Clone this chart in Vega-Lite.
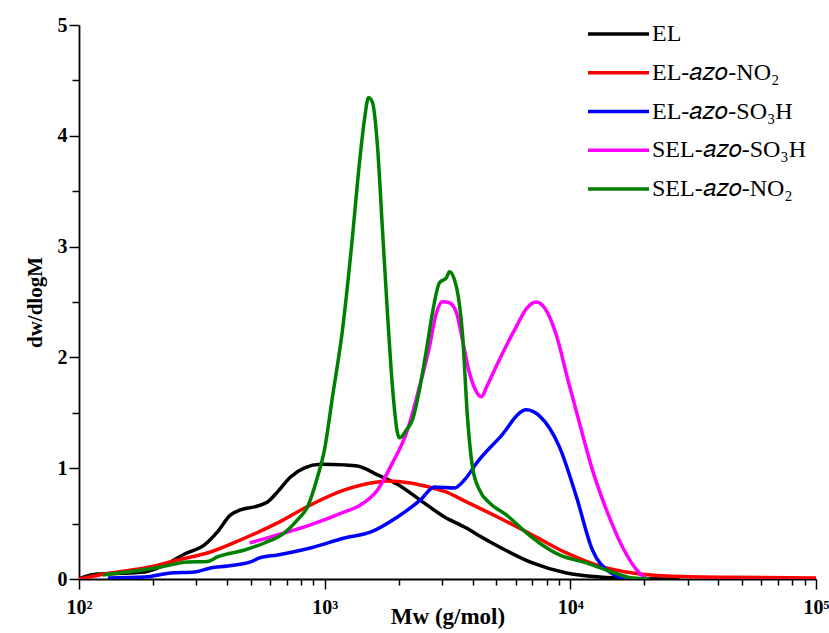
{
  "$schema": "https://vega.github.io/schema/vega-lite/v6.json",
  "width": 737,
  "height": 554,
  "autosize": {"type": "none"},
  "padding": {"left": 79, "top": 25, "right": 13, "bottom": 54},
  "config": {"view": {"stroke": null}, "font": "Liberation Serif"},
  "data": {
    "values": [
      {"s": "EL", "M": 100, "v": 0},
      {"s": "EL", "M": 105, "v": 0.02},
      {"s": "EL", "M": 119, "v": 0.045},
      {"s": "EL", "M": 143, "v": 0.05},
      {"s": "EL", "M": 185, "v": 0.063},
      {"s": "EL", "M": 223, "v": 0.126},
      {"s": "EL", "M": 269, "v": 0.226},
      {"s": "EL", "M": 324, "v": 0.307},
      {"s": "EL", "M": 366, "v": 0.425},
      {"s": "EL", "M": 414, "v": 0.578},
      {"s": "EL", "M": 454, "v": 0.623},
      {"s": "EL", "M": 533, "v": 0.659},
      {"s": "EL", "M": 585, "v": 0.695},
      {"s": "EL", "M": 643, "v": 0.786},
      {"s": "EL", "M": 726, "v": 0.921},
      {"s": "EL", "M": 828, "v": 1.003},
      {"s": "EL", "M": 962, "v": 1.035},
      {"s": "EL", "M": 1204, "v": 1.03},
      {"s": "EL", "M": 1360, "v": 1.02},
      {"s": "EL", "M": 1641, "v": 0.94},
      {"s": "EL", "M": 1978, "v": 0.855},
      {"s": "EL", "M": 2455, "v": 0.71},
      {"s": "EL", "M": 3074, "v": 0.56},
      {"s": "EL", "M": 3777, "v": 0.46},
      {"s": "EL", "M": 4188, "v": 0.4},
      {"s": "EL", "M": 5146, "v": 0.289},
      {"s": "EL", "M": 7015, "v": 0.145},
      {"s": "EL", "M": 9643, "v": 0.054},
      {"s": "EL", "M": 13140, "v": 0.018},
      {"s": "EL", "M": 17900, "v": 0.005},
      {"s": "EL", "M": 27800, "v": 0},

      {"s": "EL-𝑎𝑧𝑜-NO₂", "M": 100, "v": 0},
      {"s": "EL-𝑎𝑧𝑜-NO₂", "M": 134, "v": 0.054},
      {"s": "EL-𝑎𝑧𝑜-NO₂", "M": 185, "v": 0.099},
      {"s": "EL-𝑎𝑧𝑜-NO₂", "M": 252, "v": 0.172},
      {"s": "EL-𝑎𝑧𝑜-NO₂", "M": 343, "v": 0.244},
      {"s": "EL-𝑎𝑧𝑜-NO₂", "M": 454, "v": 0.352},
      {"s": "EL-𝑎𝑧𝑜-NO₂", "M": 643, "v": 0.506},
      {"s": "EL-𝑎𝑧𝑜-NO₂", "M": 875, "v": 0.668},
      {"s": "EL-𝑎𝑧𝑜-NO₂", "M": 1204, "v": 0.804},
      {"s": "EL-𝑎𝑧𝑜-NO₂", "M": 1641, "v": 0.876},
      {"s": "EL-𝑎𝑧𝑜-NO₂", "M": 1801, "v": 0.885},
      {"s": "EL-𝑎𝑧𝑜-NO₂", "M": 2234, "v": 0.867},
      {"s": "EL-𝑎𝑧𝑜-NO₂", "M": 2747, "v": 0.822},
      {"s": "EL-𝑎𝑧𝑜-NO₂", "M": 3074, "v": 0.79},
      {"s": "EL-𝑎𝑧𝑜-NO₂", "M": 3777, "v": 0.696},
      {"s": "EL-𝑎𝑧𝑜-NO₂", "M": 5146, "v": 0.551},
      {"s": "EL-𝑎𝑧𝑜-NO₂", "M": 7015, "v": 0.397},
      {"s": "EL-𝑎𝑧𝑜-NO₂", "M": 9643, "v": 0.235},
      {"s": "EL-𝑎𝑧𝑜-NO₂", "M": 13140, "v": 0.117},
      {"s": "EL-𝑎𝑧𝑜-NO₂", "M": 17900, "v": 0.054},
      {"s": "EL-𝑎𝑧𝑜-NO₂", "M": 24600, "v": 0.027},
      {"s": "EL-𝑎𝑧𝑜-NO₂", "M": 45700, "v": 0.015},
      {"s": "EL-𝑎𝑧𝑜-NO₂", "M": 100000, "v": 0.009},

      {"s": "EL-𝑎𝑧𝑜-SO₃H", "M": 131, "v": 0.009},
      {"s": "EL-𝑎𝑧𝑜-SO₃H", "M": 185, "v": 0.018},
      {"s": "EL-𝑎𝑧𝑜-SO₃H", "M": 236, "v": 0.054},
      {"s": "EL-𝑎𝑧𝑜-SO₃H", "M": 295, "v": 0.063},
      {"s": "EL-𝑎𝑧𝑜-SO₃H", "M": 343, "v": 0.099},
      {"s": "EL-𝑎𝑧𝑜-SO₃H", "M": 402, "v": 0.117},
      {"s": "EL-𝑎𝑧𝑜-SO₃H", "M": 499, "v": 0.154},
      {"s": "EL-𝑎𝑧𝑜-SO₃H", "M": 543, "v": 0.19},
      {"s": "EL-𝑎𝑧𝑜-SO₃H", "M": 643, "v": 0.217},
      {"s": "EL-𝑎𝑧𝑜-SO₃H", "M": 875, "v": 0.28},
      {"s": "EL-𝑎𝑧𝑜-SO₃H", "M": 1204, "v": 0.37},
      {"s": "EL-𝑎𝑧𝑜-SO₃H", "M": 1544, "v": 0.425},
      {"s": "EL-𝑎𝑧𝑜-SO₃H", "M": 1978, "v": 0.56},
      {"s": "EL-𝑎𝑧𝑜-SO₃H", "M": 2455, "v": 0.714},
      {"s": "EL-𝑎𝑧𝑜-SO₃H", "M": 2798, "v": 0.831},
      {"s": "EL-𝑎𝑧𝑜-SO₃H", "M": 3376, "v": 0.822},
      {"s": "EL-𝑎𝑧𝑜-SO₃H", "M": 3707, "v": 0.894},
      {"s": "EL-𝑎𝑧𝑜-SO₃H", "M": 4188, "v": 1.057},
      {"s": "EL-𝑎𝑧𝑜-SO₃H", "M": 5146, "v": 1.274},
      {"s": "EL-𝑎𝑧𝑜-SO₃H", "M": 6628, "v": 1.527},
      {"s": "EL-𝑎𝑧𝑜-SO₃H", "M": 7487, "v": 1.472},
      {"s": "EL-𝑎𝑧𝑜-SO₃H", "M": 9027, "v": 1.192},
      {"s": "EL-𝑎𝑧𝑜-SO₃H", "M": 10590, "v": 0.741},
      {"s": "EL-𝑎𝑧𝑜-SO₃H", "M": 12300, "v": 0.262},
      {"s": "EL-𝑎𝑧𝑜-SO₃H", "M": 14430, "v": 0.063},
      {"s": "EL-𝑎𝑧𝑜-SO₃H", "M": 16920, "v": 0},

      {"s": "SEL-𝑎𝑧𝑜-SO₃H", "M": 495, "v": 0.325},
      {"s": "SEL-𝑎𝑧𝑜-SO₃H", "M": 643, "v": 0.397},
      {"s": "SEL-𝑎𝑧𝑜-SO₃H", "M": 875, "v": 0.488},
      {"s": "SEL-𝑎𝑧𝑜-SO₃H", "M": 1204, "v": 0.605},
      {"s": "SEL-𝑎𝑧𝑜-SO₃H", "M": 1399, "v": 0.668},
      {"s": "SEL-𝑎𝑧𝑜-SO₃H", "M": 1641, "v": 0.804},
      {"s": "SEL-𝑎𝑧𝑜-SO₃H", "M": 1888, "v": 1.048},
      {"s": "SEL-𝑎𝑧𝑜-SO₃H", "M": 2153, "v": 1.319},
      {"s": "SEL-𝑎𝑧𝑜-SO₃H", "M": 2431, "v": 1.734},
      {"s": "SEL-𝑎𝑧𝑜-SO₃H", "M": 2670, "v": 2.096},
      {"s": "SEL-𝑎𝑧𝑜-SO₃H", "M": 2851, "v": 2.403},
      {"s": "SEL-𝑎𝑧𝑜-SO₃H", "M": 3015, "v": 2.502},
      {"s": "SEL-𝑎𝑧𝑜-SO₃H", "M": 3220, "v": 2.493},
      {"s": "SEL-𝑎𝑧𝑜-SO₃H", "M": 3439, "v": 2.403},
      {"s": "SEL-𝑎𝑧𝑜-SO₃H", "M": 3637, "v": 2.159},
      {"s": "SEL-𝑎𝑧𝑜-SO₃H", "M": 3884, "v": 1.861},
      {"s": "SEL-𝑎𝑧𝑜-SO₃H", "M": 4148, "v": 1.689},
      {"s": "SEL-𝑎𝑧𝑜-SO₃H", "M": 4346, "v": 1.644},
      {"s": "SEL-𝑎𝑧𝑜-SO₃H", "M": 4555, "v": 1.73},
      {"s": "SEL-𝑎𝑧𝑜-SO₃H", "M": 4850, "v": 1.86},
      {"s": "SEL-𝑎𝑧𝑜-SO₃H", "M": 5146, "v": 1.98},
      {"s": "SEL-𝑎𝑧𝑜-SO₃H", "M": 5560, "v": 2.13},
      {"s": "SEL-𝑎𝑧𝑜-SO₃H", "M": 6036, "v": 2.28},
      {"s": "SEL-𝑎𝑧𝑜-SO₃H", "M": 6628, "v": 2.44},
      {"s": "SEL-𝑎𝑧𝑜-SO₃H", "M": 7260, "v": 2.5},
      {"s": "SEL-𝑎𝑧𝑜-SO₃H", "M": 7900, "v": 2.44},
      {"s": "SEL-𝑎𝑧𝑜-SO₃H", "M": 8778, "v": 2.2},
      {"s": "SEL-𝑎𝑧𝑜-SO₃H", "M": 9765, "v": 1.8},
      {"s": "SEL-𝑎𝑧𝑜-SO₃H", "M": 10890, "v": 1.409},
      {"s": "SEL-𝑎𝑧𝑜-SO₃H", "M": 12300, "v": 0.985},
      {"s": "SEL-𝑎𝑧𝑜-SO₃H", "M": 14030, "v": 0.623},
      {"s": "SEL-𝑎𝑧𝑜-SO₃H", "M": 16300, "v": 0.289},
      {"s": "SEL-𝑎𝑧𝑜-SO₃H", "M": 19110, "v": 0.054},
      {"s": "SEL-𝑎𝑧𝑜-SO₃H", "M": 20500, "v": 0},

      {"s": "SEL-𝑎𝑧𝑜-NO₂", "M": 125, "v": 0.036},
      {"s": "SEL-𝑎𝑧𝑜-NO₂", "M": 157, "v": 0.063},
      {"s": "SEL-𝑎𝑧𝑜-NO₂", "M": 215, "v": 0.108},
      {"s": "SEL-𝑎𝑧𝑜-NO₂", "M": 277, "v": 0.154},
      {"s": "SEL-𝑎𝑧𝑜-NO₂", "M": 333, "v": 0.158},
      {"s": "SEL-𝑎𝑧𝑜-NO₂", "M": 366, "v": 0.199},
      {"s": "SEL-𝑎𝑧𝑜-NO₂", "M": 472, "v": 0.262},
      {"s": "SEL-𝑎𝑧𝑜-NO₂", "M": 569, "v": 0.325},
      {"s": "SEL-𝑎𝑧𝑜-NO₂", "M": 686, "v": 0.416},
      {"s": "SEL-𝑎𝑧𝑜-NO₂", "M": 775, "v": 0.533},
      {"s": "SEL-𝑎𝑧𝑜-NO₂", "M": 851, "v": 0.65},
      {"s": "SEL-𝑎𝑧𝑜-NO₂", "M": 935, "v": 0.921},
      {"s": "SEL-𝑎𝑧𝑜-NO₂", "M": 998, "v": 1.165},
      {"s": "SEL-𝑎𝑧𝑜-NO₂", "M": 1076, "v": 1.644},
      {"s": "SEL-𝑎𝑧𝑜-NO₂", "M": 1182, "v": 2.249},
      {"s": "SEL-𝑎𝑧𝑜-NO₂", "M": 1286, "v": 3.0},
      {"s": "SEL-𝑎𝑧𝑜-NO₂", "M": 1386, "v": 3.758},
      {"s": "SEL-𝑎𝑧𝑜-NO₂", "M": 1452, "v": 4.146},
      {"s": "SEL-𝑎𝑧𝑜-NO₂", "M": 1508, "v": 4.345},
      {"s": "SEL-𝑎𝑧𝑜-NO₂", "M": 1566, "v": 4.3},
      {"s": "SEL-𝑎𝑧𝑜-NO₂", "M": 1641, "v": 3.902},
      {"s": "SEL-𝑎𝑧𝑜-NO₂", "M": 1719, "v": 3.153},
      {"s": "SEL-𝑎𝑧𝑜-NO₂", "M": 1801, "v": 2.403},
      {"s": "SEL-𝑎𝑧𝑜-NO₂", "M": 1888, "v": 1.734},
      {"s": "SEL-𝑎𝑧𝑜-NO₂", "M": 1978, "v": 1.319},
      {"s": "SEL-𝑎𝑧𝑜-NO₂", "M": 2016, "v": 1.274},
      {"s": "SEL-𝑎𝑧𝑜-NO₂", "M": 2153, "v": 1.346},
      {"s": "SEL-𝑎𝑧𝑜-NO₂", "M": 2277, "v": 1.436},
      {"s": "SEL-𝑎𝑧𝑜-NO₂", "M": 2431, "v": 1.707},
      {"s": "SEL-𝑎𝑧𝑜-NO₂", "M": 2596, "v": 2.069},
      {"s": "SEL-𝑎𝑧𝑜-NO₂", "M": 2747, "v": 2.403},
      {"s": "SEL-𝑎𝑧𝑜-NO₂", "M": 2933, "v": 2.674},
      {"s": "SEL-𝑎𝑧𝑜-NO₂", "M": 3132, "v": 2.719},
      {"s": "SEL-𝑎𝑧𝑜-NO₂", "M": 3220, "v": 2.773},
      {"s": "SEL-𝑎𝑧𝑜-NO₂", "M": 3376, "v": 2.7},
      {"s": "SEL-𝑎𝑧𝑜-NO₂", "M": 3538, "v": 2.475},
      {"s": "SEL-𝑎𝑧𝑜-NO₂", "M": 3637, "v": 2.222},
      {"s": "SEL-𝑎𝑧𝑜-NO₂", "M": 3813, "v": 1.463},
      {"s": "SEL-𝑎𝑧𝑜-NO₂", "M": 3996, "v": 1.012},
      {"s": "SEL-𝑎𝑧𝑜-NO₂", "M": 4266, "v": 0.804},
      {"s": "SEL-𝑎𝑧𝑜-NO₂", "M": 4686, "v": 0.687},
      {"s": "SEL-𝑎𝑧𝑜-NO₂", "M": 5495, "v": 0.578},
      {"s": "SEL-𝑎𝑧𝑜-NO₂", "M": 6628, "v": 0.416},
      {"s": "SEL-𝑎𝑧𝑜-NO₂", "M": 7487, "v": 0.325},
      {"s": "SEL-𝑎𝑧𝑜-NO₂", "M": 9027, "v": 0.217},
      {"s": "SEL-𝑎𝑧𝑜-NO₂", "M": 11630, "v": 0.145},
      {"s": "SEL-𝑎𝑧𝑜-NO₂", "M": 14030, "v": 0.081},
      {"s": "SEL-𝑎𝑧𝑜-NO₂", "M": 17900, "v": 0.009},
      {"s": "SEL-𝑎𝑧𝑜-NO₂", "M": 20990, "v": 0}
    ]
  },
  "resolve": {"axis": {"x": "independent", "y": "independent"}},
  "layer": [
    {
      "mark": {"type": "point", "opacity": 0},
      "encoding": {
        "x": {
          "field": "M",
          "type": "quantitative",
          "scale": {"type": "log", "domain": [100, 100000]},
          "axis": {
            "orient": "bottom",
            "title": null,
            "labels": false,
            "domain": false,
            "grid": false,
            "tickColor": "#000000",
            "tickWidth": 1.5,
            "tickSize": 6,
            "values": [200, 300, 400, 500, 600, 700, 800, 900, 2000, 3000, 4000, 5000, 6000, 7000, 8000, 9000, 20000, 30000, 40000, 50000, 60000, 70000, 80000, 90000]
          }
        },
        "y": {
          "field": "v",
          "type": "quantitative",
          "scale": {"domain": [0, 5], "nice": false},
          "axis": {
            "orient": "left",
            "title": null,
            "labels": false,
            "domain": false,
            "grid": false,
            "tickColor": "#000000",
            "tickWidth": 1.5,
            "tickSize": 7,
            "values": [0.5, 1.5, 2.5, 3.5, 4.5]
          }
        }
      }
    },
    {
      "mark": {"type": "line", "interpolate": "monotone", "strokeWidth": 3.5, "clip": true},
      "encoding": {
        "x": {
          "field": "M",
          "type": "quantitative",
          "scale": {"type": "log", "domain": [100, 100000]},
          "axis": {
            "orient": "bottom",
            "title": "Mw (g/mol)",
            "titleFont": "Liberation Serif",
            "titleFontWeight": "bold",
            "titleFontSize": 23,
            "titleColor": "#000000",
            "titlePadding": -12,
            "grid": false,
            "domainColor": "#000000",
            "domainWidth": 1.8,
            "tickColor": "#000000",
            "tickWidth": 1.5,
            "tickSize": 10,
            "values": [100, 1000, 10000, 100000],
            "labelExpr": "datum.value == 100 ? '10²' : datum.value == 1000 ? '10³' : datum.value == 10000 ? '10⁴' : '10⁵'",
            "labelFont": "Liberation Serif",
            "labelFontWeight": "bold",
            "labelFontSize": 20,
            "labelColor": "#000000",
            "labelPadding": 8,
            "labelFlush": false,
            "labelOverlap": false
          }
        },
        "y": {
          "field": "v",
          "type": "quantitative",
          "scale": {"domain": [0, 5], "nice": false},
          "axis": {
            "orient": "left",
            "title": "dw/dlogM",
            "titleFont": "Liberation Serif",
            "titleFontWeight": "bold",
            "titleFontSize": 21,
            "titleColor": "#000000",
            "titlePadding": 12,
            "grid": false,
            "domainColor": "#000000",
            "domainWidth": 1.8,
            "tickColor": "#000000",
            "tickWidth": 1.5,
            "tickSize": 10,
            "values": [0, 1, 2, 3, 4, 5],
            "format": "d",
            "labelFont": "Liberation Serif",
            "labelFontWeight": "bold",
            "labelFontSize": 20,
            "labelColor": "#000000",
            "labelFlush": false,
            "labelOverlap": false
          }
        },
        "color": {
          "field": "s",
          "type": "nominal",
          "scale": {
            "domain": ["EL", "EL-𝑎𝑧𝑜-NO₂", "EL-𝑎𝑧𝑜-SO₃H", "SEL-𝑎𝑧𝑜-SO₃H", "SEL-𝑎𝑧𝑜-NO₂"],
            "range": ["#000000", "#FF0000", "#0000FF", "#FF00FF", "#008000"]
          },
          "legend": {
            "orient": "none",
            "legendX": 507,
            "legendY": -3,
            "title": null,
            "padding": 0,
            "symbolType": "stroke",
            "symbolSize": 3721,
            "symbolStrokeWidth": 3.5,
            "labelFont": "Liberation Serif",
            "labelFontSize": 24,
            "labelColor": "black",
            "labelOffset": 1,
            "labelLimit": 300,
            "clipHeight": 24,
            "rowPadding": 14.75
          }
        }
      }
    }
  ]
}
